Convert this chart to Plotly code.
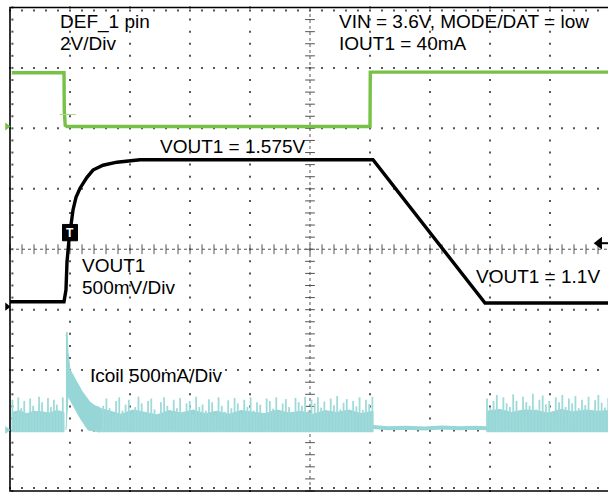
import numpy as np
import plotly.graph_objects as go

# ---------------- data (screen divisions: x 0..10, y 0..8 from bottom) ----------------
# CH1 DEF_1 pin, 2V/Div
DEF_T = [0.03, 0.9, 0.905, 0.92, 0.95, 6.0, 6.005, 10.0]
DEF_Y = [6.92, 6.92, 6.30, 6.05, 6.03, 6.03, 6.93, 6.93]

# CH2 VOUT1, 500mV/Div
VOUT_T = [0.0, 0.9, 0.933, 0.95, 0.983, 1.017, 1.05, 1.1, 1.167, 1.283,
          1.383, 1.55, 1.783, 2.167, 6.05, 7.917, 10.0]
VOUT_Y = [3.13, 3.13, 3.33, 3.79, 4.15, 4.39, 4.65, 4.86, 5.01, 5.19,
          5.31, 5.39, 5.44, 5.48, 5.48, 3.11, 3.11]

# CH4 Icoil, 500mA/Div, ground level in divisions
ICOIL_GND = 1.01
ICOIL_MA_PER_DIV = 500

# ripple spikes (mA) in the three switching segments
SPIKE_A_T = (0.04, 0.88)
SPIKE_A = [250, 130, 270, 180, 240, 120, 260, 200, 150, 275, 230, 140, 265, 190, 250, 210,
           160, 270]
SPIKE_C_T = (1.5, 6.04)
SPIKE_C = [140, 200, 260, 180, 120, 240, 270, 160, 210, 250,
           130, 190, 275, 220, 150, 240, 260, 170, 120, 230,
           270, 200, 140, 250, 180, 265, 150, 220, 240, 130,
           275, 190, 210, 160, 255, 230, 120, 270, 200, 150,
           245, 180, 265, 220, 140, 250, 190, 270, 160, 230,
           210, 130, 260, 240, 175, 270, 150, 220, 255, 190,
           140, 265, 230, 200, 275, 160, 250, 220, 270, 185,
           235, 150, 260, 205, 280, 170, 225, 255, 140, 240,
           195, 270, 165, 250, 215, 275]
SPIKE_E_T = (7.95, 9.97)
SPIKE_E = [260, 180, 240, 290, 150, 270, 220, 190, 295, 240,
           160, 275, 230, 200, 300, 170, 250, 285, 210, 240,
           150, 270, 230, 290, 190, 260, 220, 280, 180, 250,
           205, 275, 165, 245, 290, 225, 185, 265]

# dense ripple band top (mA)
BAND_A = [145, 160, 135, 155, 150, 140, 160, 145]
BAND_C = [185, 155, 130, 165, 145, 125, 160, 140, 165, 135, 155, 130,
          160, 145, 135, 165, 140, 155, 130, 160, 145, 165, 135, 155]
BAND_E = [155, 170, 145, 165, 160, 140, 170, 150, 165, 155, 160]
BAND_BASE = -15

# inrush decay after the transition (mA)
DECAY_T = [0.933, 0.95, 0.967, 1.0, 1.033, 1.083, 1.133, 1.2, 1.267, 1.333, 1.417, 1.5]
DECAY_UP = [780, 810, 640, 500, 470, 420, 380, 320, 270, 230, 200, 185]
DECAY_LO_T = [0.933, 0.967, 1.0, 1.083, 1.167, 1.3, 1.5]
DECAY_LO = [0, 280, 250, 170, 100, 0, -15]

# PFM / idle segment (mA)
IDLE_T = [6.05, 6.3, 6.6, 6.9, 7.2, 7.5, 7.75, 7.95]
IDLE = [25, 15, 18, 12, 20, 14, 18, 15]

GREEN = "#77c146"
CYAN = "#97d6d6"
CYAN_SPIKE = "#9fdada"
FONT = "Liberation Sans, Arial, sans-serif"


def ma(v):
    return ICOIL_GND + np.asarray(v, dtype=float) / ICOIL_MA_PER_DIV


fig = go.Figure()

# ---------------- graticule ----------------
gx, gy = [], []
for xv in [1, 2, 3, 4, 6, 7, 8, 9]:
    for yy in np.arange(0, 8.01, 0.2):
        gx.append(xv); gy.append(yy)
for yv in [1, 2, 3, 5, 6, 7]:
    for xx in np.arange(0, 10.01, 0.2):
        gx.append(xx); gy.append(yv)
fig.add_trace(go.Scatter(x=gx, y=gy, mode="markers",
                         marker=dict(symbol="square", size=2, color="#555555"),
                         hoverinfo="skip", showlegend=False))
# center lines
fig.add_trace(go.Scatter(x=[0, 10], y=[4, 4], mode="lines",
                         line=dict(color="#555555", width=1, dash="dot"),
                         hoverinfo="skip", showlegend=False))
fig.add_trace(go.Scatter(x=[5, 5], y=[0, 8], mode="lines",
                         line=dict(color="#555555", width=1, dash="dot"),
                         hoverinfo="skip", showlegend=False))
tx = np.arange(0, 10.01, 0.2)
fig.add_trace(go.Scatter(x=tx, y=[4] * len(tx), mode="markers",
                         marker=dict(symbol="line-ns", size=7, line=dict(width=1, color="#555555")),
                         hoverinfo="skip", showlegend=False))
ty = np.arange(0, 8.01, 0.2)
fig.add_trace(go.Scatter(x=[5] * len(ty), y=ty, mode="markers",
                         marker=dict(symbol="line-ew", size=7, line=dict(width=1, color="#555555")),
                         hoverinfo="skip", showlegend=False))
# border minor ticks
bx = list(np.arange(0, 10.01, 0.2))
fig.add_trace(go.Scatter(x=bx + bx + [0.04] * len(ty), y=[7.95] * len(bx) + [0.05] * len(bx) + list(ty),
                         mode="markers", marker=dict(symbol="square", size=2, color="#555555"),
                         hoverinfo="skip", showlegend=False))
# border
fig.add_trace(go.Scatter(x=[12, 0, 0, 12], y=[8, 8, 0, 0], mode="lines",
                         line=dict(color="black", width=1.6),
                         hoverinfo="skip", showlegend=False))

# ---------------- Icoil ----------------
def band(t_rng, tops):
    t = np.linspace(t_rng[0], t_rng[1], len(tops))
    xs = list(t) + list(t[::-1])
    ys = list(ma(tops)) + [ma(BAND_BASE)] * len(t)
    return xs, ys

for rng, tops in [((0.03, 0.9), BAND_A), ((1.45, 6.05), BAND_C), ((7.95, 10.0), BAND_E)]:
    xs, ys = band(rng, tops)
    fig.add_trace(go.Scatter(x=xs, y=ys, mode="lines", fill="toself", fillcolor=CYAN,
                             line=dict(color=CYAN, width=1), hoverinfo="skip", showlegend=False))

sx, sy = [], []
for rng, vals in [(SPIKE_A_T, SPIKE_A), (SPIKE_C_T, SPIKE_C), (SPIKE_E_T, SPIKE_E)]:
    t = np.linspace(rng[0], rng[1], len(vals))
    for ti, vi in zip(t, vals):
        sx += [ti, ti, None]
        sy += [ma(BAND_BASE), ma(vi), None]
fig.add_trace(go.Scatter(x=sx, y=sy, mode="lines", line=dict(color=CYAN_SPIKE, width=1.8),
                         hoverinfo="skip", showlegend=False))

# decay polygon
dx = DECAY_T + DECAY_LO_T[::-1]
dy = list(ma(DECAY_UP)) + list(ma(DECAY_LO[::-1]))
fig.add_trace(go.Scatter(x=dx, y=dy, mode="lines", fill="toself", fillcolor=CYAN,
                         line=dict(color=CYAN, width=1), hoverinfo="skip", showlegend=False))
# idle segment
fig.add_trace(go.Scatter(x=IDLE_T, y=ma(IDLE), mode="lines", line=dict(color=CYAN, width=4),
                         hoverinfo="skip", showlegend=False))

# ---------------- DEF_1 and VOUT1 ----------------
fig.add_trace(go.Scatter(x=DEF_T, y=DEF_Y, mode="lines", line=dict(color=GREEN, width=3.4),
                         hoverinfo="skip", showlegend=False))
fig.add_trace(go.Scatter(x=[0.83, 1.1], y=[6.23, 6.23], mode="lines", line=dict(color="#a8d890", width=1),
                         hoverinfo="skip", showlegend=False))
fig.add_trace(go.Scatter(x=VOUT_T, y=VOUT_Y, mode="lines", line=dict(color="black", width=3.4),
                         hoverinfo="skip", showlegend=False))

# channel ground markers
fig.add_trace(go.Scatter(x=[-0.05, -0.05, -0.05], y=[6.03, 3.05, ma(0)], mode="markers",
                         marker=dict(symbol="triangle-right", size=7, color=[GREEN, "black", CYAN]),
                         hoverinfo="skip", showlegend=False))
# trigger level arrow
fig.add_trace(go.Scatter(x=[9.82, 10.0], y=[4.1, 4.1], mode="lines", line=dict(color="black", width=2),
                         hoverinfo="skip", showlegend=False))
fig.add_trace(go.Scatter(x=[9.82], y=[4.1], mode="markers",
                         marker=dict(symbol="triangle-left", size=11, color="black"),
                         hoverinfo="skip", showlegend=False))

# trigger "T" marker
fig.add_shape(type="rect", x0=0.875, x1=1.125, y0=4.14, y1=4.41,
              fillcolor="black", line=dict(color="black", width=1))
fig.add_annotation(x=1.0, y=4.275, text="<b>T</b>", showarrow=False,
                   font=dict(family=FONT, size=12, color="white"))

# ---------------- labels ----------------
labels = [
    ("DEF_1 pin", 0.8, 7.768),
    ("2V/Div", 0.8, 7.396),
    ("VIN = 3.6V, MODE/DAT = low", 5.45, 7.768),
    ("IOUT1 = 40mA", 5.45, 7.404),
    ("VOUT1 = 1.575V", 2.467, 5.692),
    ("VOUT1", 1.167, 3.739),
    ("500mV/Div", 1.167, 3.359),
    ("VOUT1 = 1.1V", 7.733, 3.557),
    ("Icoil 500mA/Div", 1.3, 1.903),
]
for text, x, y in labels:
    fig.add_annotation(x=x, y=y, text=text, showarrow=False, xanchor="left", yanchor="middle",
                       font=dict(family=FONT, size=19, color="black"))

fig.update_layout(
    width=608, height=493, margin=dict(l=0, r=0, t=0, b=0),
    paper_bgcolor="white", plot_bgcolor="white",
    xaxis=dict(range=[-10 / 60, 598 / 60], visible=False, showgrid=False, zeroline=False),
    yaxis=dict(range=[-2 / 60.44, 491 / 60.44], visible=False, showgrid=False, zeroline=False),
    showlegend=False,
)
fig.write_html("out.html", config={"displayModeBar": False},
               post_script="document.body.style.margin='0px';")
